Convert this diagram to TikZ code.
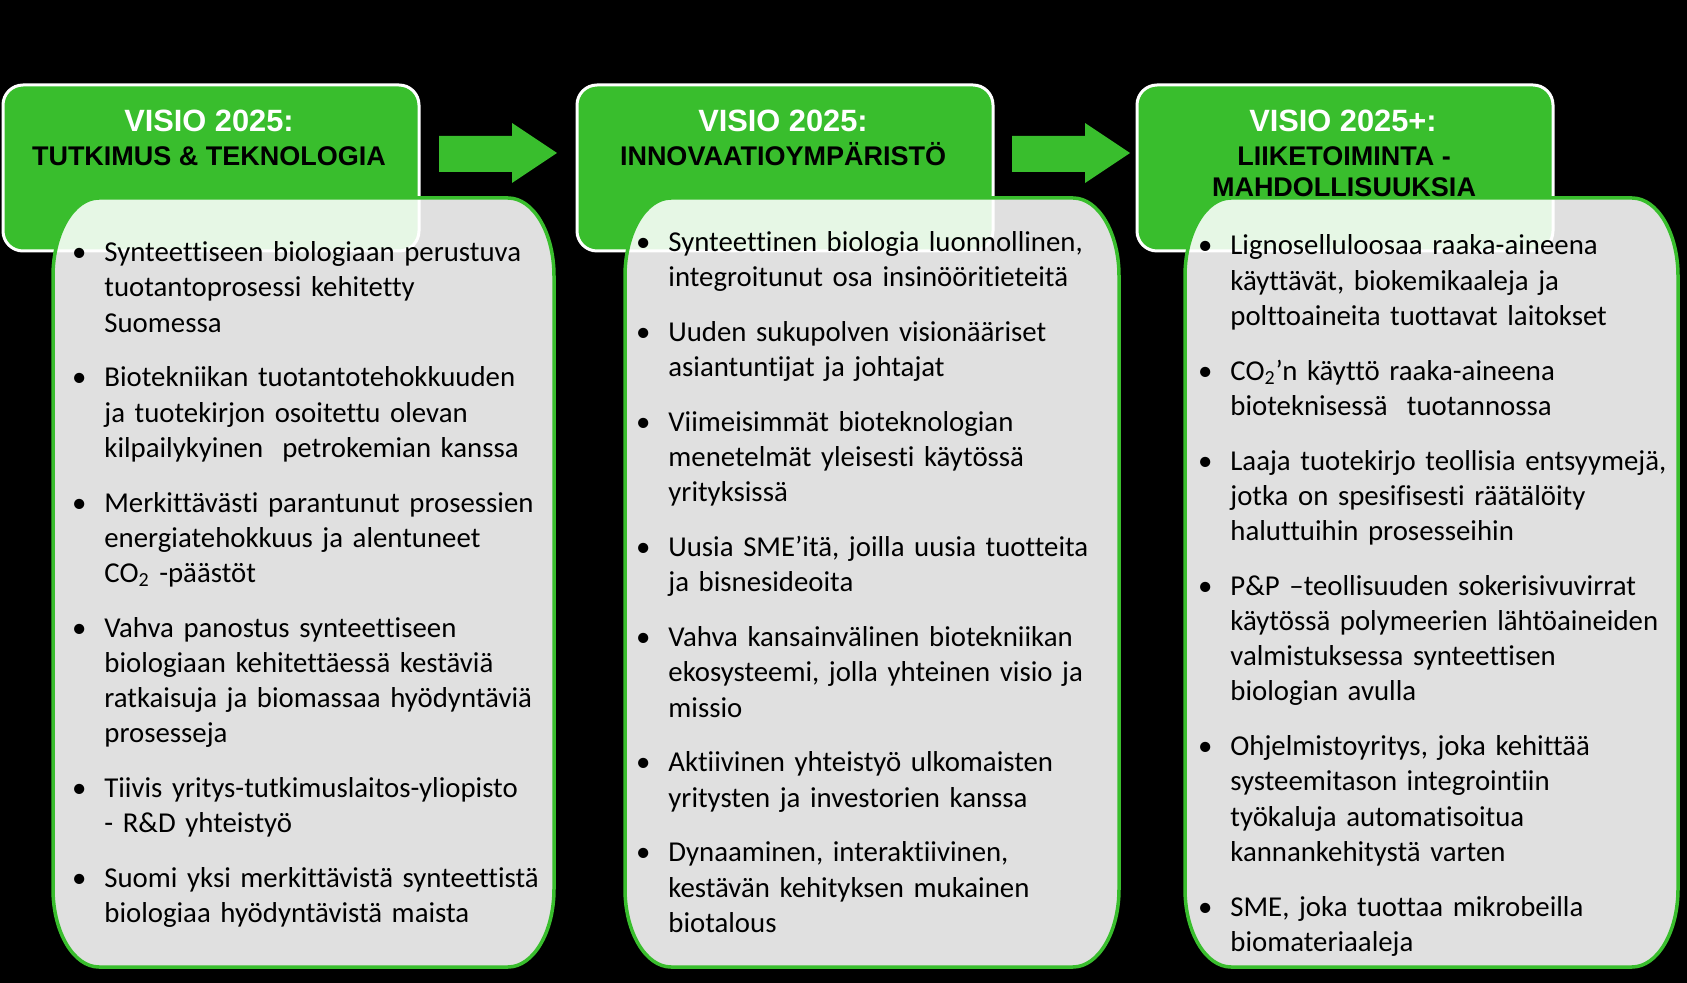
\documentclass[tikz,border=0pt]{standalone}
\usepackage{fontspec}
\setmainfont{Carlito}[Ligatures=NoCommon, RawFeature={-liga;-clig;-dlig}]
\newfontfamily\headfont{Liberation Sans}
\definecolor{visiogreen}{RGB}{57,190,45}
% one bullet item: bullet hangs left of the text
\newcommand\bul[1]{\par\noindent\strut\llap{\textbullet\hspace{9pt}}#1}
% content box with wide rounded corners
\newcommand\contentbox[4]{%
  \draw[contentbox] (#1+46,#2) -- (#3-46,#2)
    arc[start angle=-90, end angle=0, x radius=46, y radius=78]
    -- (#3,#4-78) arc[start angle=0, end angle=90, x radius=46, y radius=78]
    -- (#1+46,#4) arc[start angle=90, end angle=180, x radius=46, y radius=78]
    -- (#1,#2+78) arc[start angle=180, end angle=270, x radius=46, y radius=78]
    -- cycle;}
\tikzset{
  headbox/.style={draw=white, line width=1.5pt, fill=visiogreen, rounded corners=10pt,
    minimum width=208pt, minimum height=83pt, inner sep=0pt},
  contentbox/.style={draw=visiogreen, line width=1.75pt, fill=white, fill opacity=0.88},
  visiotitle/.style={anchor=base, text=white, inner sep=0pt,
    font=\headfont\bfseries\fontsize{15.4}{18}\selectfont},
  visiosub/.style={anchor=base, text=black, inner sep=0pt,
    font=\headfont\bfseries\fontsize{13.5}{16}\selectfont},
  bodytext/.style={anchor=north west, inner sep=0pt, text width=240pt, align=left,
    font=\fontsize{14.4}{17.6}\selectfont\setlength\parskip{9.8pt}},
  flowarrow/.style={fill=visiogreen}
}
\begin{document}
\begin{tikzpicture}[x=0.5pt, y=-0.5pt]
  \useasboundingbox (0,0) rectangle (1687,983);
  \fill[black] (0,0) rectangle (1687,983);
  \path
    coordinate (ar1) at (439,136)
    coordinate (ar2) at (1012,136)
    ;
  % header boxes
  \node[headbox] (h1) at (211,168) {};
  \node[headbox] (h2) at (785,168) {};
  \node[headbox] (h3) at (1345,168) {};
  % arrows between the headers
  \fill[flowarrow] (ar1) -- ++(73,0) -- ++(0,-13) -- ++(45,30) -- ++(-45,30) -- ++(0,-11) -- ++(-73,0) -- cycle;
  \fill[flowarrow] (ar2) -- ++(73,0) -- ++(0,-13) -- ++(45,30) -- ++(-45,30) -- ++(0,-11) -- ++(-73,0) -- cycle;
  % content boxes
  \contentbox{53}{198}{554}{967}
  \contentbox{625}{198}{1119}{967}
  \contentbox{1185}{198}{1678}{967}
  % titles
  \node[visiotitle] (v1) at (209,132) {VISIO 2025:};
  \node[visiosub] (s1) at (209,166) {TUTKIMUS \& TEKNOLOGIA};
  \node[visiotitle] (v2) at (783,132) {VISIO 2025:};
  \node[visiosub] (s2) at (783,166) {INNOVAATIOYMPÄRISTÖ};
  \node[visiotitle] (v3) at (1343,132) {VISIO 2025+:};
  \node[visiosub] (s3a) at (1344,166) {LIIKETOIMINTA -};
  \node[visiosub] (s3b) at (1344,197) {MAHDOLLISUUKSIA};
  % bullet lists
  \node[bodytext] (c1) at (104,206.5) {%
    \bul{Synteettiseen biologiaan perustuva\\tuotantoprosessi kehitetty\\Suomessa}
    \bul{Biotekniikan tuotantotehokkuuden\\ja tuotekirjon osoitettu olevan\\kilpailykyinen\ \ petrokemian kanssa}
    \bul{Merkittävästi parantunut prosessien\\energiatehokkuus ja alentuneet\\CO\textsubscript{2} -päästöt}
    \bul{Vahva panostus synteettiseen\\biologiaan kehitettäessä kestäviä\\ratkaisuja ja biomassaa hyödyntäviä\\prosesseja}
    \bul{Tiivis yritys-tutkimuslaitos-yliopisto\\- R\&D yhteistyö}
    \bul{Suomi yksi merkittävistä synteettistä\\biologiaa hyödyntävistä maista}};
  \node[bodytext] (c2) at (668,196.4) {%
    \bul{Synteettinen biologia luonnollinen,\\integroitunut osa insinööritieteitä}
    \bul{Uuden sukupolven visionääriset\\asiantuntijat ja johtajat}
    \bul{Viimeisimmät bioteknologian\\menetelmät yleisesti käytössä\\yrityksissä}
    \bul{Uusia SME’itä, joilla uusia tuotteita\\ja bisnesideoita}
    \bul{Vahva kansainvälinen biotekniikan\\ekosysteemi,\ jolla yhteinen visio ja\\missio}
    \bul{Aktiivinen yhteistyö ulkomaisten\\yritysten ja investorien kanssa}
    \bul{Dynaaminen, interaktiivinen,\\kestävän kehityksen mukainen\\biotalous}};
  \node[bodytext] (c3) at (1230,199.8) {%
    \bul{Lignoselluloosaa raaka-aineena\\käyttävät, biokemikaaleja ja\\polttoaineita tuottavat laitokset}
    \bul{CO\textsubscript{2}’n käyttö raaka-aineena\\bioteknisessä\ \ tuotannossa}
    \bul{Laaja tuotekirjo teollisia entsyymejä,\\jotka on spesifisesti räätälöity\\haluttuihin prosesseihin}
    \bul{P\&P –teollisuuden sokerisivuvirrat\\käytössä polymeerien lähtöaineiden\\valmistuksessa synteettisen\\biologian avulla}
    \bul{Ohjelmistoyritys, joka kehittää\\systeemitason integrointiin\\työkaluja automatisoitua\\kannankehitystä varten}
    \bul{SME, joka tuottaa mikrobeilla\\biomateriaaleja}};
\end{tikzpicture}
\end{document}
